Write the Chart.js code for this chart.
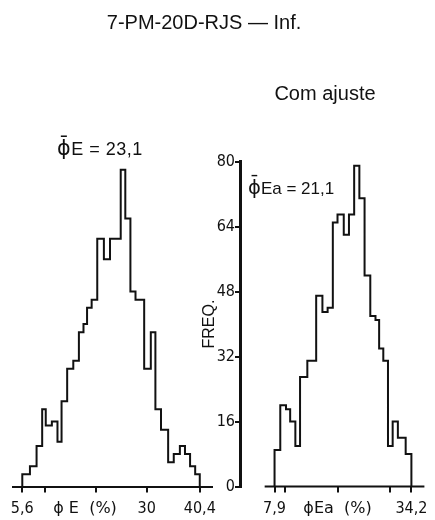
<!DOCTYPE html>
<html>
<head>
<meta charset="utf-8">
<script src="https://cdn.jsdelivr.net/npm/chart.js@4.4.0/dist/chart.umd.min.js"></script>
<style>
  body { margin: 0; background: #fff; }
  #wrap { position: relative; width: 435px; height: 520px; overflow: hidden; }
  canvas { position: absolute; left: 0; top: 0; }
  .lbl { position: absolute; white-space: nowrap; color: #111; font-family: 'Liberation Sans', Arial, sans-serif; line-height: 1; }
  .phi { font-family: 'DejaVu Sans', sans-serif; font-size: 1.15em; }
</style>
</head>
<body>
<div id="wrap">
  <canvas id="left" width="435" height="520"></canvas>
  <canvas id="right" width="435" height="520"></canvas>
  <div class="lbl" style="left:204px; top:12px; font-size:20px; transform:translateX(-50%)">7-PM-20D-RJS — Inf.</div>
  <div class="lbl" style="left:325px; top:83.4px; font-size:20px; transform:translateX(-50%)">Com ajuste</div>
  <div class="lbl" style="left:57px; top:138px; font-size:18px; letter-spacing:0.5px"><span class="phi">&#x3D5;&#x304;</span>E = 23,1</div>
  <div class="lbl" style="left:248px; top:178px; font-size:17px"><span class="phi">&#x3D5;&#x304;</span>Ea = 21,1</div>
</div>
<script>
// bin edges (phi E, %) and frequencies
const leftEdges = [5.6, 7.1, 8.4, 9.5, 10.2, 11.4, 12.5, 13.3, 14.4, 15.6, 16.7, 17.6, 18.3, 19.2, 20.3, 21.6,
    22.8, 24.9, 25.8, 26.8, 27.8, 29.5, 30.8, 31.7, 32.8, 34.2, 35.3, 36.5, 37.5, 38.5, 39.5, 40.4]
const leftFreq = [3, 5, 10, 19, 15, 16, 11, 21, 29, 31, 38, 40, 44, 46, 61, 56,
    61, 78, 66, 48, 46, 29, 38, 19, 14, 6, 8, 10, 8, 5, 3]

// com ajuste
const rightEdges = [7.9, 9.0, 10.1, 10.9, 11.9, 12.8, 14.2, 15.9, 17.1, 18.1, 19.1, 20.0, 21.2,
    22.2, 23.2, 24.2, 25.2, 26.3, 27.3, 28.0, 28.8, 29.7, 30.6, 31.6, 33.1, 34.2]
const rightFreq = [9, 20, 19, 16, 10, 27, 31, 47, 43, 44, 65, 67, 62,
    67, 79, 71, 52, 42, 41, 34, 31, 10, 16, 12, 8]

const leftTicks = [5.6, 10, 20, 30, 40.4]
const leftTickLabels = ['5,6', '', '', '30', '40,4']
const leftAxisName = 'ϕ E  (%)'
const leftAxisNameAt = 17.9

const rightTicks = [7.9, 10, 20, 30, 34.2]
const rightTickLabels = ['7,9', '', '', '', '34,2']
const rightAxisName = 'ϕEa  (%)'
const rightAxisNameAt = 20

const freqMax = 80
const freqStep = 16
const rightBaseline = [6.0, 36.7]

const INK = '#111'
const NARROW = "'Liberation Sans Narrow', 'DejaVu Sans Condensed', sans-serif"
const NAME_FONT = "'DejaVu Sans', sans-serif"

function stepPoints(edges, freq){
    const pts = [{x: edges[0], y: 0}]
    freq.forEach((f, i) => pts.push({x: edges[i], y: f}))
    pts.push({x: edges[edges.length - 1], y: 0})
    return pts
}

function histDataset(edges, freq){
    return {
        data: stepPoints(edges, freq),
        stepped: 'before',
        borderColor: INK,
        borderWidth: 2,
        borderJoinStyle: 'miter',
        pointRadius: 0,
        fill: false,
        clip: false,
    }
}

function xAxis(min, max, ticks, labels, name, nameAt, showBorder){
    const values = ticks.includes(nameAt) ? ticks.slice() : ticks.concat([nameAt]).sort((a, b) => a - b)
    const labelFor = v => v === nameAt ? name : labels[ticks.indexOf(v)]
    return {
        type: 'linear',
        min: min,
        max: max,
        afterBuildTicks: s => { s.ticks = values.map(v => ({value: v})) },
        afterFit: s => { s.height = 33.5 },
        border: {display: showBorder, color: INK, width: 2},
        grid: {
            drawOnChartArea: false,
            tickLength: 6,
            lineWidth: 2,
            tickColor: ctx => (ctx.tick && !ticks.includes(ctx.tick.value)) ? 'rgba(0,0,0,0)' : INK,
        },
        ticks: {
            autoSkip: false,
            maxRotation: 0,
            padding: 7,
            color: INK,
            callback: v => labelFor(v),
            font: ctx => (ctx.tick && ctx.tick.value === nameAt) ? {family: NAME_FONT, size: 16} : {family: NARROW, size: 16},
        },
    }
}

const common = {
    responsive: false,
    animation: false,
    devicePixelRatio: 1,
    plugins: {legend: {display: false}, tooltip: {enabled: false}, title: {display: false}},
}

new Chart(document.getElementById('left'), {
    type: 'line',
    data: {datasets: [histDataset(leftEdges, leftFreq)]},
    options: {
        ...common,
        layout: {padding: {left: 12.7, right: 223.3, top: 161.7, bottom: 0}},
        scales: {
            x: xAxis(3.72, 42.74, leftTicks, leftTickLabels, leftAxisName, leftAxisNameAt, true),
            y: {display: false, min: 0, max: freqMax},
        },
    },
})

new Chart(document.getElementById('right'), {
    type: 'line',
    data: {datasets: [
        histDataset(rightEdges, rightFreq),
        {
            data: rightBaseline.map(v => ({x: v, y: 0})),
            borderColor: INK,
            borderWidth: 2,
            pointRadius: 0,
            clip: false,
        },
    ]},
    options: {
        ...common,
        layout: {padding: {left: 200, right: 8.3, top: 161.7, bottom: 0}},
        scales: {
            x: xAxis(1.26, 36.69, rightTicks, rightTickLabels, rightAxisName, rightAxisNameAt, false),
            y: {
                min: 0,
                max: freqMax,
                afterFit: s => { s.width = 40 },
                border: {display: true, color: INK, width: 3},
                grid: {drawOnChartArea: false, tickLength: 5, lineWidth: 2, color: INK},
                ticks: {stepSize: freqStep, padding: 0, color: INK, font: {family: NARROW, size: 16}},
                title: {display: true, text: 'FREQ.', color: INK, padding: 0, font: {family: "'Liberation Sans', Arial, sans-serif", size: 16}},
            },
        },
    },
})
</script>
</body>
</html>
